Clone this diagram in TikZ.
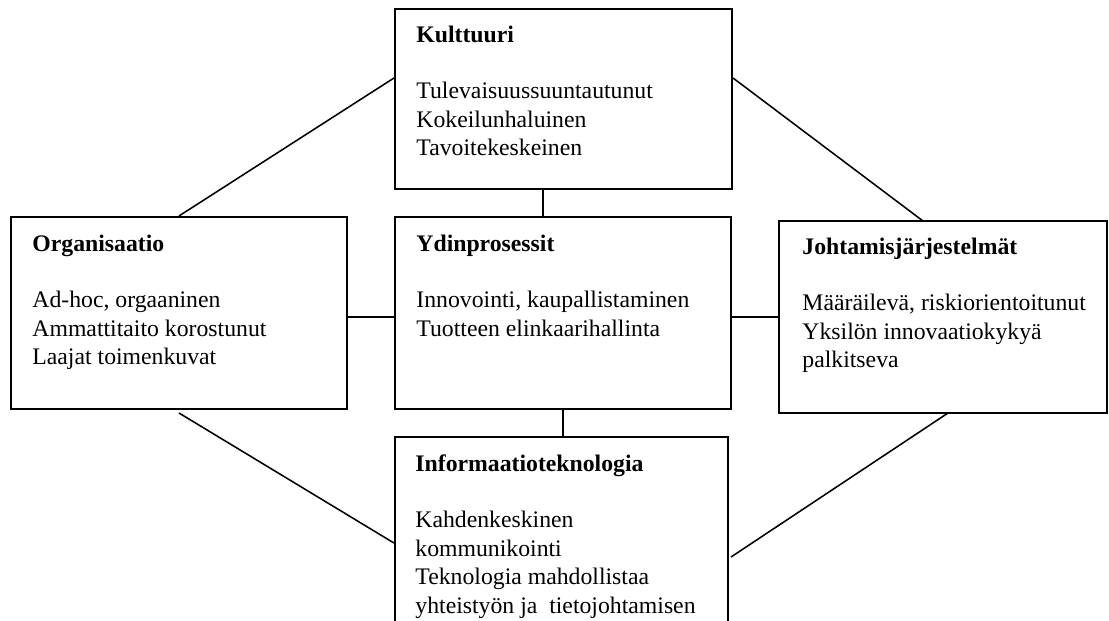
\documentclass[tikz,border=0pt]{standalone}
\usepackage{fontspec}
\setmainfont{Liberation Serif}
\usetikzlibrary{fit,calc}
\newcommand{\boxlines}[1]{\begin{tabular}[t]{@{}l@{}}#1\end{tabular}}
\begin{document}
\begin{tikzpicture}[x=0.4845pt,y=-0.4845pt,
  box/.style={draw=black,line width=1pt,inner sep=0pt,rectangle},
  txt/.style={anchor=base west,inner sep=0pt,font=\fontsize{11.5pt}{13.8pt}\selectfont},
  link/.style={draw=black,line width=0.75pt}]
\useasboundingbox (0,0) rectangle (1109,620);
\clip (0,0) rectangle (1109,620);
% boxes
\node[box,fit={(395,9) (732,189)}] (kult) {};
\node[box,fit={(11,217) (347,409)}] (org) {};
\node[box,fit={(395,217) (731,409)}] (yd) {};
\node[box,fit={(779,221) (1107,413)}] (joh) {};
\node[box,fit={(395,437) (728,660)}] (inf) {};
% texts
\node[txt] (kultT) at (416,42) {\boxlines{\textbf{Kulttuuri}\\[13.8pt]Tulevaisuussuuntautunut\\Kokeilunhaluinen\\Tavoitekeskeinen}};
\node[txt] (orgT) at (32,251) {\boxlines{\textbf{Organisaatio}\\[13.8pt]Ad-hoc, orgaaninen\\Ammattitaito korostunut\\Laajat toimenkuvat}};
\node[txt] (ydT) at (416,251) {\boxlines{\textbf{Ydinprosessit}\\[13.8pt]Innovointi, kaupallistaminen\\Tuotteen elinkaarihallinta}};
\node[txt] (johT) at (802,254) {\boxlines{\textbf{Johtamisjärjestelmät}\\[13.8pt]Määräilevä, riskiorientoitunut\\Yksilön innovaatiokykyä\\palkitseva}};
\node[txt] (infT) at (415,471) {\boxlines{\textbf{Informaatioteknologia}\\[13.8pt]Kahdenkeskinen\\kommunikointi\\Teknologia mahdollistaa\\yhteistyön ja\ \ tietojohtamisen}};
% connectors
\coordinate (kultL) at (kult.west |- 0,78);
\coordinate (kultR) at (kult.east |- 0,78);
\coordinate (orgTop) at (org.north);
\coordinate (johTop) at (923,221);
\coordinate (orgBot) at (179,413);
\coordinate (johBot) at (948,413);
\coordinate (infL) at (inf.west |- 0,543);
\coordinate (infR) at (731,557);
\draw[link] (orgTop) -- (kultL);
\draw[link] (kultR) -- (johTop);
\draw[link] (kult.south -| 543,0) -- (yd.north -| 543,0);
\draw[link] (org.east |- 0,317) -- (yd.west |- 0,317);
\draw[link] (yd.east |- 0,317) -- (joh.west |- 0,317);
\draw[link] (yd.south) -- (inf.north -| yd.south);
\draw[link] (orgBot) -- (infL);
\draw[link] (johBot) -- (infR);
\end{tikzpicture}
\end{document}
